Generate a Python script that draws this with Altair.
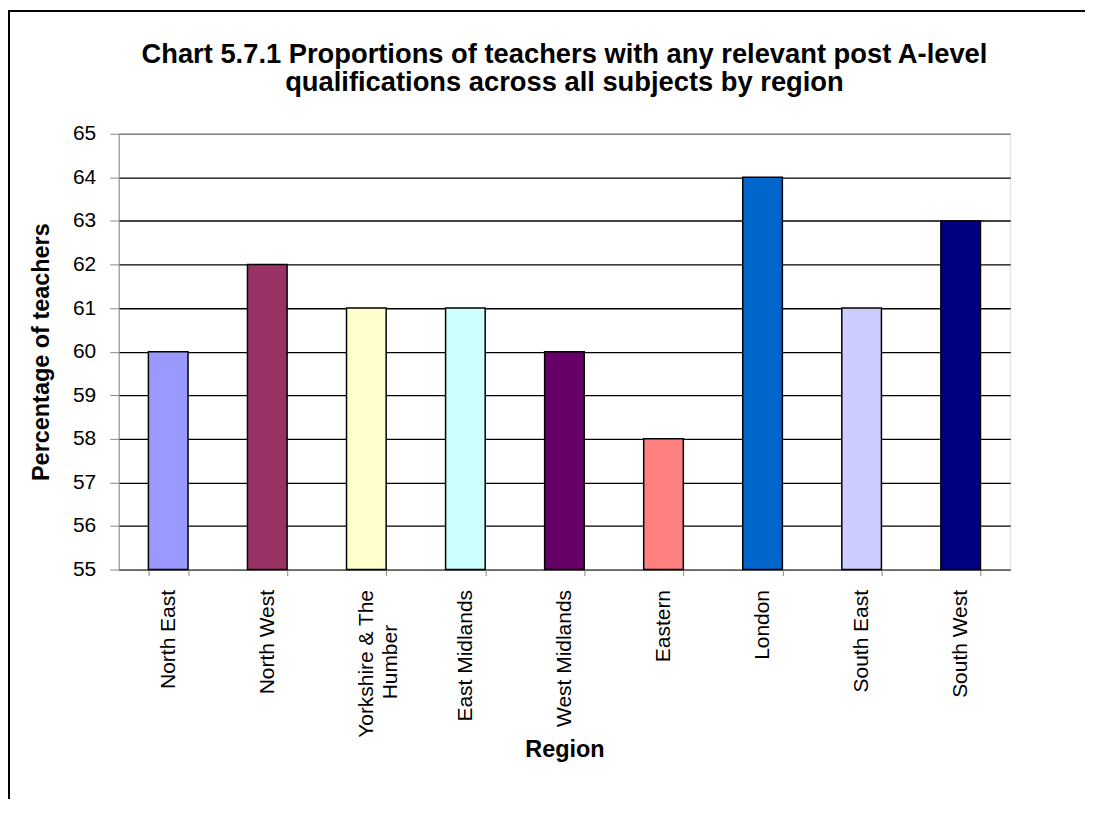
import altair as alt
import pandas as pd

# ---- data ----
regions = ["North East", "North West", "Yorkshire & The Humber", "East Midlands",
           "West Midlands", "Eastern", "London", "South East", "South West"]
values = [60, 62, 61, 61, 60, 58, 64, 61, 63]
colors = ["#9999FF", "#993366", "#FFFFCC", "#CCFFFF", "#660066",
          "#FF8080", "#0066CC", "#CCCCFF", "#000080"]
y_ticks = list(range(55, 66))
title_lines = ["Chart 5.7.1 Proportions of teachers with any relevant post A-level",
               "qualifications across all subjects by region"]

df = pd.DataFrame({"Region": regions, "Percentage": values})
one = pd.DataFrame({"a": [0]})

FONT = "Liberation Sans"
W, H = 894, 437
PAD_L, PAD_T, PAD_R, PAD_B = 111, 125, 75, 230

NB = "\u00a0" * 6 + "\u200d"
label_expr = ("datum.value == 'Yorkshire & The Humber' ? "
              "['Yorkshire & The', 'Humber" + NB + "'] : datum.label")

bars = alt.Chart(df).mark_bar(stroke="black", strokeWidth=1.5).encode(
    x=alt.X("Region:N", sort=regions,
            scale=alt.Scale(paddingInner=0.6, paddingOuter=0.3),
            axis=alt.Axis(title="Region", labelAngle=-90, labelFontSize=21,
                          labelPadding=14, tickSize=6, tickBand="extent",
                          labelLineHeight=24, labelExpr=label_expr,
                          titleFontSize=23.5, titleY=180, titleBaseline="middle",
                          grid=False)),
    y=alt.Y("Percentage:Q",
            scale=alt.Scale(domain=[55, 65], nice=False, zero=False),
            axis=alt.Axis(title="Percentage of teachers", values=y_ticks,
                          labelFontSize=21, labelPadding=14, tickSize=9,
                          titleFontSize=23.5, titleAngle=270, titleX=-77,
                          titleY=H / 2, titleAlign="center", titleBaseline="middle",
                          grid=True,
                          gridColor=alt.condition("datum.value == 65",
                                                  alt.value("#808080"),
                                                  alt.value("black")),
                          gridWidth=1.3)),
    y2=alt.datum(55),
    color=alt.Color("Region:N", scale=alt.Scale(domain=regions, range=colors),
                    legend=None),
)

border_top = alt.Chart(one).mark_rule(color="black", strokeWidth=2).encode(
    x=alt.value(-PAD_L), x2=alt.value(W + PAD_R), y=alt.value(-123), y2=alt.value(-123))
border_left = alt.Chart(one).mark_rule(color="black", strokeWidth=2).encode(
    x=alt.value(-PAD_L + 1), x2=alt.value(-PAD_L + 1), y=alt.value(-123), y2=alt.value(H + PAD_B))

chart = alt.layer(bars, border_top, border_left).properties(
    width=W, height=H,
    title=alt.TitleParams(text=title_lines, font=FONT, fontSize=27.4, fontWeight="bold",
                          color="black", anchor="middle", frame="group",
                          lineHeight=29, offset=0, baseline="alphabetic", dy=109),
    padding={"left": PAD_L, "top": PAD_T, "right": PAD_R, "bottom": PAD_B},
    autosize=alt.AutoSizeParams(type="none"),
).configure_view(
    stroke="#808080", strokeWidth=1.5
).configure_axis(
    labelFont=FONT, titleFont=FONT, labelColor="black", titleColor="black",
    titleFontWeight="bold", domainColor="black", domainWidth=2,
    tickColor="black", tickWidth=1.5
).configure(background="white")

chart.save("out.html", embed_options={"renderer": "svg", "actions": False})
